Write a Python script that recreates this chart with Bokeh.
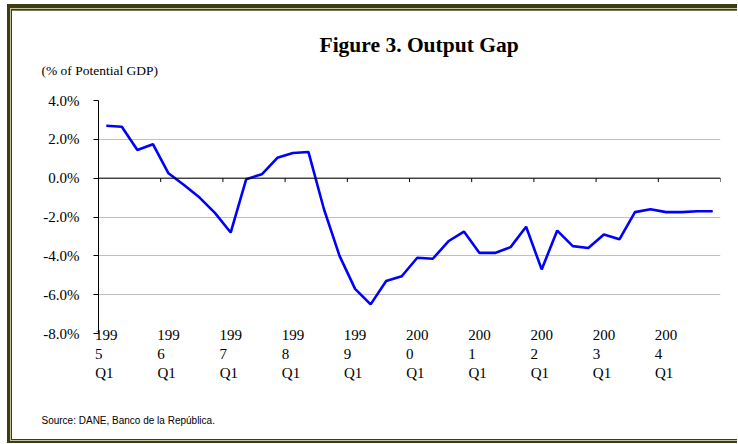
import numpy as np
from bokeh.plotting import figure
from bokeh.models import Range1d, FixedTicker, PrintfTickFormatter, Span, Title
from bokeh.embed import file_html
from bokeh.resources import INLINE

# ---- data ----
years = list(range(1995, 2005))
gap = [2.7, 2.65, 1.45, 1.75, 0.25, -0.35, -1.0, -1.8, -2.8, -0.05,
       0.2, 1.05, 1.3, 1.35, -1.6, -4.0, -5.7, -6.5, -5.3, -5.05,
       -4.1, -4.15, -3.25, -2.75, -3.85, -3.85, -3.55, -2.5, -4.7, -2.7,
       -3.5, -3.6, -2.9, -3.15, -1.75, -1.6, -1.75, -1.75, -1.7, -1.7]
y_ticks = [-8, -6, -4, -2, 0, 2, 4]
title_text = "Figure 3. Output Gap"
subtitle_text = "(% of Potential GDP)"
source_text = "Source: DANE, Banco de la República."

n = len(gap)
xq = np.arange(n) + 0.5          # category centres
year_pos = [i * 4 for i in range(len(years))]
label_pos = [x + 0.5 for x in year_pos]     # centre of each year's Q1 category
NB = "\u00a0"
labels = {x: f"{str(y)[:3]}\n{str(y)[3]}{NB * 4}\nQ1{NB}" for x, y in zip(label_pos, years)}

SERIF = "Liberation Serif"
SANS = "Liberation Sans"
DARK = "#3d3c12"
LIGHT = "#c6c3a0"

# page geometry
PW, PH = 737, 443
FL, FT, FR, FB = 98, 100, 720, 333   # frame edges on page

p = figure(width=PW, height=PH, x_range=Range1d(0, n), y_range=Range1d(-8, 4),
           output_backend="svg", toolbar_location=None,
           min_border_left=FL, min_border_right=PW - FR,
           min_border_top=FT, min_border_bottom=PH - FB,
           background_fill_color=None, border_fill_color=None)
p.outline_line_color = None
p.title.visible = False

# decorative double frame (top, left, bottom) painted as background bands
bands = [  # (colour, position, size)
    (DARK, "6.7px 4px", "100% 4px"), (DARK, "6.7px 4px", "3.3px 100%"), (DARK, "6.7px 441.3px", "100% 3px"),
    (LIGHT, "10px 8px", "100% 1.3px"), (LIGHT, "10px 8px", "1px 100%"), (LIGHT, "10px 440px", "100% 1.3px"),
    (DARK, "11px 9.3px", "100% 1.7px"), (DARK, "11px 9.3px", "1.3px 100%"), (DARK, "11px 439px", "100% 1px"),
]
p.styles = {
    "background-color": "white",
    "background-image": ", ".join(f"linear-gradient({c}, {c})" for c, _, _ in bands),
    "background-position": ", ".join(pos for _, pos, _ in bands),
    "background-size": ", ".join(sz for _, _, sz in bands),
    "background-repeat": "no-repeat",
}

# y axis
p.yaxis.ticker = FixedTicker(ticks=y_ticks)
p.yaxis.formatter = PrintfTickFormatter(format="%.1f%%")
p.yaxis.major_tick_in = 0
p.yaxis.major_tick_out = 5
p.yaxis.minor_tick_line_color = None
p.yaxis.axis_line_color = "black"
p.yaxis.major_tick_line_color = "black"
p.yaxis.major_label_text_font = SERIF
p.yaxis.major_label_text_font_size = "15px"
p.yaxis.major_label_text_color = "black"
p.yaxis.major_label_standoff = 14

# x axis (labels only)
p.xaxis.ticker = FixedTicker(ticks=label_pos)
p.xaxis.major_label_overrides = labels
p.xaxis.axis_line_color = None
p.xaxis.major_tick_line_color = None
p.xaxis.minor_tick_line_color = None
p.xaxis.major_label_standoff = -13
p.xaxis.major_label_text_font = SERIF
p.xaxis.major_label_text_font_size = "15px"
p.xaxis.major_label_text_color = "black"
p.xaxis.major_label_text_line_height = 1.2

# grid
p.xgrid.visible = False
p.ygrid.ticker = FixedTicker(ticks=y_ticks)
p.ygrid.grid_line_color = "#c0c0c0"
p.ygrid.grid_line_width = 1

# zero line with year ticks
p.add_layout(Span(location=0, dimension="width", line_color="black", line_width=1))
tick_x = year_pos + [n]
p.segment(x0=tick_x, y0=[0] * len(tick_x), x1=tick_x, y1=[-0.2] * len(tick_x),
          line_color="black", line_width=1)

# series
p.line(xq, gap, line_color="#0000ff", line_width=2.6)

# texts
p.add_layout(Title(text=subtitle_text + "\n ", align="left", offset=41 - FL, standoff=0,
                   text_font=SERIF, text_font_size="13.5px", text_font_style="normal",
                   text_line_height=1.52, text_color="black"), "above")
p.add_layout(Title(text=title_text, align="left", offset=319 - FL, standoff=8,
                   text_font=SERIF, text_font_size="21.5px", text_font_style="bold",
                   text_color="black"), "above")
p.add_layout(Title(text=" \n \n" + source_text, align="left", offset=41 - FL, standoff=0,
                   text_font=SANS, text_font_size="10px", text_font_style="normal",
                   text_line_height=1.35, text_color="black"), "below")

open("out.html", "w").write(file_html(p, INLINE))
